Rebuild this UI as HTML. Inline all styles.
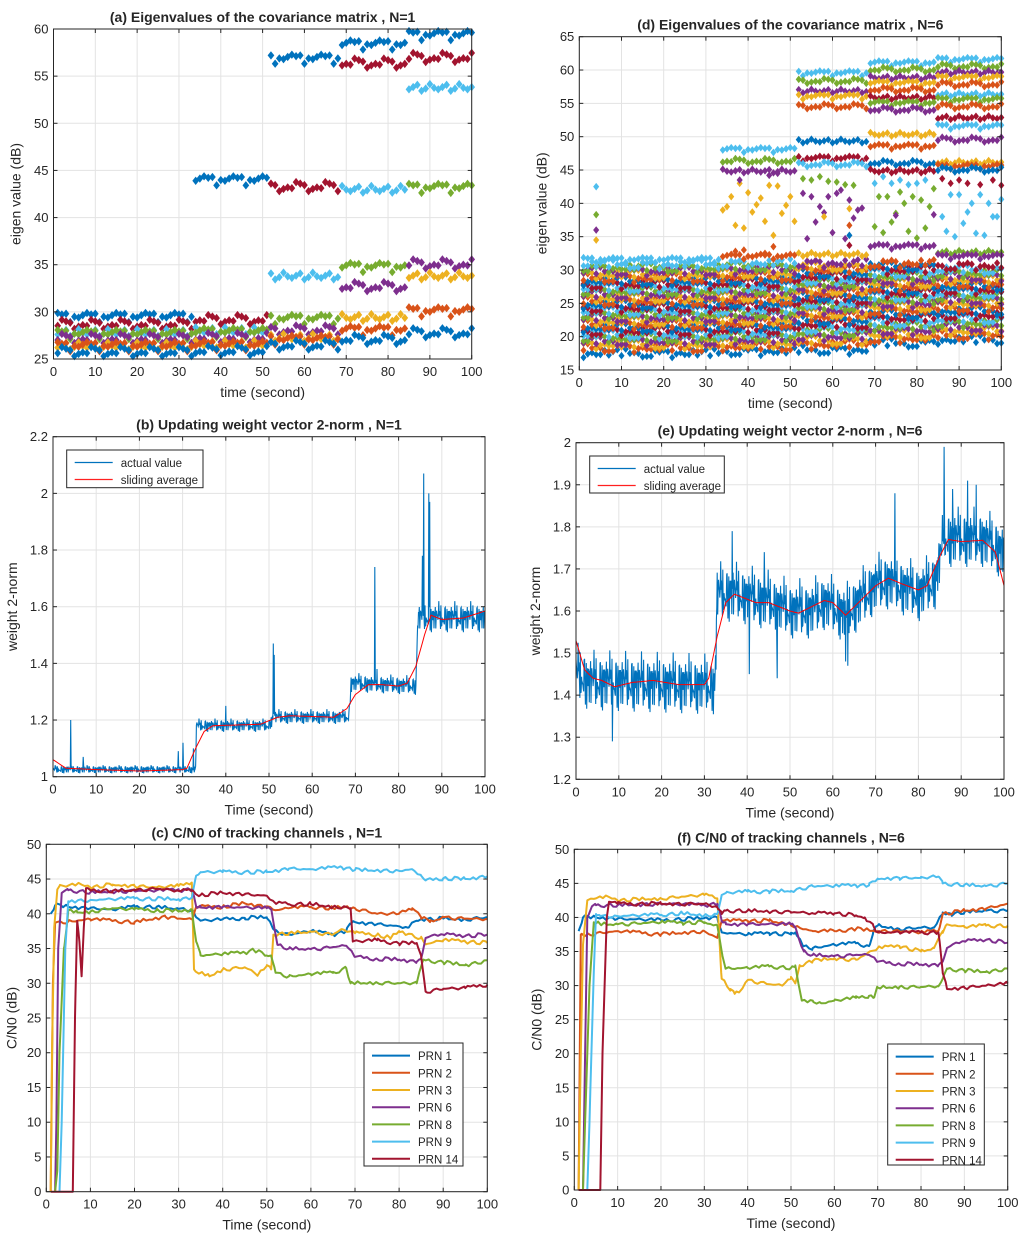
<!DOCTYPE html>
<html><head><meta charset="utf-8"><style>
body{margin:0;background:#fff}
svg text{font-family:"Liberation Sans",sans-serif;fill:#262626}
</style></head><body>
<svg id="fig" width="1024" height="1237" viewBox="0 0 1024 1237" xmlns="http://www.w3.org/2000/svg"></svg>
<script>
// ---------- data ----------
const COLORS=['#0072BD','#D95319','#EDB120','#7E2F8E','#77AC30','#4DBEEE','#A2142F'];
const prnNames=['PRN 1','PRN 2','PRN 3','PRN 6','PRN 8','PRN 9','PRN 14'];
const jitter=[0.3,-0.5,0.1,0.6,-0.2,-0.7,0.4,0,-0.4,0.5,-0.1,0.2,-0.6,0.7,-0.3,0.1,0.5,-0.5,0,0.3,-0.2];
const noise=[0.2,-0.6,0.9,-0.3,0.1,0.7,-0.9,0.4,-0.1,0.5,-0.7,0.3,0.8,-0.4,0,-0.8,0.6,-0.2,0.35,-0.55,0.95,-0.15,0.45,-0.85,0.15,0.65,-0.35,-0.65,0.25,0.75,-0.45,0.05,-0.95,0.55,-0.25,0.85,-0.05];
const aSegs=[[1,33],[34,51],[52,68],[69,84],[85,100]];
const aLevels=[
 [[29.4,0],[28.6,6],[28.0,5],[27.6,4],[27.1,3],[26.6,2],[26.3,1],[25.7,0]],
 [[43.9,0],[29.1,6],[28.2,5],[27.8,4],[27.2,3],[26.8,2],[26.4,1],[25.8,0]],
 [[56.8,0],[43.2,6],[34.0,5],[29.2,4],[28.0,3],[27.5,2],[27.0,1],[26.4,0]],
 [[58.3,0],[56.3,6],[43.2,5],[34.7,4],[32.6,3],[29.6,2],[28.0,1],[27.0,0]],
 [[59.3,0],[56.9,6],[54.0,5],[43.1,4],[35.0,3],[34.0,2],[30.0,1],[27.7,0]]];
const dSegs=[[1,33],[34,51],[52,68],[69,84],[85,100]];
const dUpper=[
 [[31.5,5]],
 [[48,5],[46.3,4],[45,3],[32,1]],
 [[59.5,5],[58.3,4],[57,3],[56,2],[54.5,1],[49.5,0],[46.7,6],[45.8,5],[32.5,2]],
 [[61,5],[60,4],[59,3],[58,2],[57,1],[56,6],[55,4],[54,3],[50.5,2],[48.5,1],[46,0],[45,6],[33.5,3]],
 [[61.5,5],[60.5,4],[59.8,3],[58.8,2],[57.8,1],[56.5,5],[55.5,4],[54.5,1],[53,6],[51.5,5],[49.5,3],[46.3,2],[45.5,1],[45,0],[32.8,4],[32,3]]];
const dBand=[
 [17.5,18.3,18.8,19.3,19.8,20.3,20.8,21.3,21.8,22.3,22.8,23.3,23.8,24.3,24.8,25.3,25.8,26.3,26.8,27.3,27.8,28.3,28.8,29.3,29.8,30.3,30.8],
 [17.8,18.5,19.0,19.5,20.0,20.5,21.0,21.5,22.0,22.5,23.0,23.5,24.0,24.5,25.0,25.5,26.0,26.5,27.0,27.5,28.0,28.5,29.0,29.5,30.0,30.5,31.0],
 [18.0,18.8,19.4,20.0,20.6,21.2,21.8,22.4,23.0,23.5,24.0,24.5,25.0,25.5,26.0,26.5,27.0,27.5,28.0,28.5,29.0,29.5,30.0,30.5,31.0],
 [19.0,19.7,20.3,20.9,21.5,22.1,22.7,23.3,23.9,24.5,25.0,25.5,26.0,26.5,27.0,27.5,28.0,28.5,29.0,29.5,30.0,30.5,31.0],
 [19.5,20.2,20.8,21.4,22.0,22.6,23.2,23.8,24.4,25.0,25.5,26.0,26.5,27.0,27.5,28.0,28.5,29.0,29.5,30.0,30.6]];
const dScatter=[[4,42.5,5],[4,38.3,4],[4,36,3],[4,34.5,2],
 [34,39,2],[35,39.5,2],[36,41,2],[37,36.7,2],[38,43,2],[39,36.3,2],[40,41.6,2],[41,38.7,2],[42,39.8,2],[43,40.8,2],[44,37.3,2],[45,42.7,2],[46,35.2,2],[47,42.6,2],[48,38.5,2],[49,39.7,2],[50,41,2],[51,37.3,2],
 [37,32.8,1],[39,33,1],[46,33.5,1],[44,32.5,1],[38,43.5,3],[45,44.2,3],[47,44.5,3],
 [53,43.7,4],[55,43.5,4],[57,44,4],[59,43.3,4],[61,43.2,4],[63,42.8,4],[65,42.7,4],
 [53,41.5,3],[54,34.7,3],[55,41,3],[56,37.2,3],[57,39.5,3],[58,38.6,3],[59,41,3],[60,35.6,3],[61,41.5,3],[62,42,3],[63,34.7,3],[64,40.5,3],[65,37.8,3],[66,39,3],[67,39.3,3],
 [58,38,2],[64,39.2,2],[64,36.7,1],[64,33.7,6],[64,35.2,0],
 [70,36.5,4],[71,41,4],[72,35.6,4],[73,41,4],[74,37.2,4],[75,38.5,4],[76,41.7,4],[77,40,4],[78,35.8,4],[79,41,4],[80,34.8,4],[81,40.5,4],[82,36.3,4],[83,39.5,4],[84,42.2,4],
 [75,38.2,3],[84,38.3,3],[70,43,5],[72,44,5],[74,43,5],[76,43.5,5],[78,42.8,5],[80,43,5],[82,43.5,5],
 [86,38,5],[87,35.8,5],[88,41.3,5],[89,35,5],[90,41.3,5],[91,37,5],[92,38.7,5],[93,40,5],[94,35.5,5],[95,41.3,5],[96,35.2,5],[97,40,5],[98,38,5],[99,38,5],[100,40.6,5],
 [86,43.7,6],[88,43,6],[90,43.5,6],[92,43,6],[95,42.8,6],[98,43.5,6],[100,42.7,6]];
const bAvgT=[0,3,10,20,30,31,33,35,37,48,52,55,65,68,70,73,76,80,82,84,86,87.5,90,95,100];
const bAvgV=[1.06,1.03,1.025,1.02,1.025,1.03,1.1,1.16,1.18,1.185,1.21,1.215,1.21,1.24,1.29,1.325,1.325,1.32,1.33,1.39,1.5,1.57,1.555,1.56,1.585];
const bActT=[0,33,33.2,50,51,68.5,69,84,84.5,100];
const bActV=[1.025,1.025,1.18,1.18,1.21,1.21,1.33,1.32,1.56,1.56];
const bAmp=[0.011,0.011,0.018,0.018,0.02,0.02,0.026,0.026,0.042,0.042];
const bSpikeT=[4.1,7,29,30.1,32.5,40,51,51.2,74.5,75,85.5,85.8,87,87.2];
const bSpikeV=[1.2,1.07,1.09,1.12,1.1,1.25,1.47,1.43,1.74,1.38,1.78,2.07,2.0,1.97];
const eAvgT=[0,2,4,6,9,13,18,24,30,31,33,35,37,42,45,50,52,55,58,60,63,66,70,73,76,80,82,85,87,90,95,98,100];
const eAvgV=[1.53,1.46,1.44,1.435,1.42,1.43,1.435,1.425,1.425,1.44,1.54,1.62,1.64,1.62,1.62,1.6,1.595,1.61,1.625,1.62,1.59,1.62,1.66,1.678,1.665,1.65,1.66,1.73,1.77,1.765,1.768,1.74,1.66];
const eActT=[0,3,32.5,33,37,45,50,55,58,63,70,73,80,84,86,95,100];
const eActV=[1.45,1.43,1.42,1.64,1.64,1.62,1.6,1.6,1.62,1.59,1.66,1.67,1.64,1.67,1.77,1.77,1.74];
const eSpikeT=[36.5,40.5,44,63.5,74.5,86,88,91.5,93.5,8.5,47,63];
const eSpikeV=[1.79,1.45,1.74,1.47,1.88,1.99,1.89,1.91,1.9,1.29,1.44,1.48];
const cT=[
 [1,2,5,10,15,20,25,30,33,34,35,40,45,50,52,55,60,65,68,69,70,75,80,82,84,86,90,95,100],
 [1,1.5,2,5,10,20,27,30,33,34,40,45,50,52,55,60,65,68,70,75,80,83,85,87,90,95,100],
 [1,1.3,1.8,2.5,3,8,10,15,20,25,30,33,33.5,35,37,40,45,48,50,51,51.5,55,60,65,67,70,75,78,80,85,86,90,95,100],
 [2,2.3,2.7,3.5,5,10,20,30,33,34,35,40,50,51,52.5,55,60,65,68,70,75,80,84,85,86,88,90,95,100],
 [2,2.5,3,4,5,7,10,15,20,25,30,33,34,35,40,45,47,50,51,52,55,60,65,68,69,75,80,84,85.5,90,95,100],
 [3,3.5,4.3,5,10,20,30,33,34,35,40,50,55,60,67,70,80,83,85,86,90,95,100],
 [1,6,6.5,7,7.5,8,8.5,9,10,15,20,25,30,33,35,40,45,50,52,55,60,65,68,69,69.5,75,80,84,85,86,90,95,100]];
const cV=[
 [40,41.2,41,40.8,40.6,41,41,40.7,40.6,39.5,39,39.2,39.4,39.5,37.5,37,37.5,37,37.5,38.5,38.8,38.5,38.2,38,39,39.2,39.3,39.2,39.5],
 [0,30,38.7,38.9,39.2,38.8,39.6,39.3,39.2,41,41,41.5,41,40.5,40.8,41,40.8,41,40.8,40,40,40.8,39.5,38.8,39.5,39.3,39.2],
 [0,20,38,43.5,44,44.2,43.8,44.2,44,43.8,44,44.5,32,31.5,31,32,32.3,31.2,32.5,32,37,37.2,37.4,37,37.8,37.2,37,36.5,37.5,36.5,35.6,36.2,36,35.8],
 [0,10,35,43,43.4,43.1,43.3,43.4,43.5,41,40.9,41,40.8,40.6,35.5,35,34.9,35.2,35.4,33.8,33.5,33.4,33.1,33.5,36.5,37,37,36.8,37],
 [0,3,20,35,40.5,40.2,40.3,40.8,40.6,40.5,40.4,40.6,36,34,34.2,34.4,34.8,34,34,31.5,31,31.3,31.5,32.2,30,30.1,30,30,33.4,33,32.6,33.3],
 [0,10,35,41.8,42,42.2,42.1,42.3,45.5,46,46,46,46.5,46.4,46.7,46.3,46.2,46.4,45.5,44.8,45.1,45,45.4],
 [0,0,25,39,36,31,38,43.7,43.4,43.3,43.4,43.6,43.3,43.3,42.7,43,42.8,42.6,41.5,41.4,41.4,41,41,40.8,36,36.2,35.7,35.8,34,28.8,29.2,29.3,29.8]];
const fT=[
 [1,2,5,10,20,30,33,34,40,45,50,51,53,55,60,65,68,69,70,75,80,83,85,87,90,95,100],
 [1,1.5,3,10,20,30,33,34,40,45,50,52,55,60,65,70,75,80,84,85,90,95,100],
 [1,1.5,2,3,5,8,10,20,30,33,34,36,37,38,40,45,48,50,51,52,55,60,65,70,75,80,83,85,86,90,95,100],
 [2,2.5,3,4,5,10,20,30,33,34,35,40,50,51,53,55,60,65,68,70,75,80,84,85,86,88,90,95,100],
 [2,2.5,3.5,4.5,6,10,20,25,30,33,34,35,40,45,50,51,52.5,55,57,60,65,68,69,70,75,80,84,85,86,90,95,100],
 [3,3.5,4.5,5,6,10,20,25,30,33,34,35,40,45,50,55,60,65,68,70,75,80,84,85,90,95,100],
 [1,6,6.5,7.5,8,10,20,30,33,34,35,40,50,55,60,65,67,69,70,75,80,84,85,86,90,95,100]];
const fV=[
 [38,40,40,39.8,39.6,39.9,40,37.8,37.5,37.7,37.5,37.8,35.8,35.5,36,36.2,35.8,38,38.8,38.3,38.5,38.5,40.5,40.5,40.8,41,41],
 [0,37.5,37.5,38,37.5,38,37,39.5,39.5,39.5,39,38.5,38,38,38.3,38,38,37.8,38,40.5,41,41.3,42],
 [0,20,36,42.5,42.8,43,42.5,42.8,43.3,42.8,31,29.5,28.8,29,30.8,30.2,30,31,30.3,33,33.6,34,33.8,35.5,35.8,35,35.5,38,39,38.6,38.8,38.8],
 [0,20,40,41.5,41.8,41.8,42,41.8,42,39.5,39,39,39,38.5,35,34.5,34.3,34.5,34.5,33.5,33.2,33.1,33,33.5,35.5,36.3,36.5,36.7,36.3],
 [0,10,30,39.3,39,39,39.3,39.2,39.3,38.8,35,32.5,32.6,32.8,32.6,32.7,27.8,27.8,27.4,27.8,28.2,28.5,28.2,29.7,29.8,29.8,29.9,31,32.5,32.2,32,32.5],
 [0,10,32,40.5,40.2,40.2,40.4,40.6,40.3,40.5,43.3,43.6,43.8,43.8,43.9,44.6,44.6,44.7,44.7,45.7,45.8,45.8,46,45,44.8,44.6,45],
 [0,0,20,40,42.3,42,42,42,41.5,40.5,41,41,40.8,40.6,40.6,40.3,40,38.8,37.8,37.8,37.8,37.8,32,29.5,29.7,30,30.3]];
const tenTicks=[0,10,20,30,40,50,60,70,80,90,100];

// ---------- helpers ----------
const NS='http://www.w3.org/2000/svg';
const fig=document.getElementById('fig');
function mk(tag,attrs,parent){const e=document.createElementNS(NS,tag);for(const k in attrs)e.setAttribute(k,attrs[k]);(parent||fig).appendChild(e);return e;}
function interp(T,V,t){if(t<=T[0])return V[0];for(let i=1;i<T.length;i++){if(t<=T[i]){const f=(t-T[i-1])/(T[i]-T[i-1]);return V[i-1]+f*(V[i]-V[i-1]);}}return V[V.length-1];}
function axes(o){
  const g=mk('g',{});
  
  
  const sx=v=>o.x0+(v-o.xmin)/(o.xmax-o.xmin)*(o.x1-o.x0);
  const sy=v=>o.y1-(v-o.ymin)/(o.ymax-o.ymin)*(o.y1-o.y0);
  mk('rect',{x:o.x0,y:o.y0,width:o.x1-o.x0,height:o.y1-o.y0,fill:'#fff'},g);
  o.xticks.forEach(t=>{const x=sx(t);
    const l=mk('line',{x1:x,x2:x,y1:o.y0,y2:o.y1,stroke:'#e3e3e3','stroke-width':1},g);
    
    const tx=mk('text',{x:x,y:o.y1+17,'text-anchor':'middle','font-size':13},g);tx.textContent=t;
    });
  o.yticks.forEach(t=>{const y=sy(t);
    const l=mk('line',{x1:o.x0,x2:o.x1,y1:y,y2:y,stroke:'#e3e3e3','stroke-width':1},g);
    
    const tx=mk('text',{x:o.x0-5,y:y+4.5,'text-anchor':'end','font-size':13},g);tx.textContent=t;
    });
  const plot=mk('g',{},g);
  
  const clip=mk('clipPath',{id:'clip-'+o.name},g);mk('rect',{x:o.x0-4,y:o.y0-4,width:o.x1-o.x0+8,height:o.y1-o.y0+8},clip);
  plot.setAttribute('clip-path','url(#clip-'+o.name+')');
  const after=()=>{
    o.xticks.forEach(t=>{const x=sx(t);mk('line',{x1:x,x2:x,y1:o.y1,y2:o.y1-4,stroke:'#262626'},g);mk('line',{x1:x,x2:x,y1:o.y0,y2:o.y0+4,stroke:'#262626'},g);});
    o.yticks.forEach(t=>{const y=sy(t);mk('line',{x1:o.x0,x2:o.x0+4,y1:y,y2:y,stroke:'#262626'},g);mk('line',{x1:o.x1,x2:o.x1-4,y1:y,y2:y,stroke:'#262626'},g);});
    const b=mk('rect',{x:o.x0,y:o.y0,width:o.x1-o.x0,height:o.y1-o.y0,fill:'none',stroke:'#262626','stroke-width':1},g);
    
    const ti=mk('text',{x:(o.x0+o.x1)/2,y:o.y0-7,'text-anchor':'middle','font-size':14,'font-weight':'bold',fill:'#000'},g);ti.textContent=o.title;
    
    const xl=mk('text',{x:(o.x0+o.x1)/2,y:o.y1+38,'text-anchor':'middle','font-size':14},g);xl.textContent=o.xlabel;
    
    const yc=(o.y0+o.y1)/2,xc=o.x0-o.ylx;
    const yl=mk('text',{x:xc,y:yc,'text-anchor':'middle','font-size':14,transform:`rotate(-90 ${xc} ${yc})`},g);yl.textContent=o.ylabel;
    
  };
  return {g,plot,sx,sy,after};
}
function diamond(p,x,y,s,c){const d=mk('polygon',{points:`${x},${y-s} ${x+s*0.8},${y} ${x},${y+s} ${x-s*0.8},${y}`,fill:c},p);
  }
function legendBox(ax,x,y,w,h,items,lw,fs,rowH,name){
  const g=mk('g',{},ax.g);
  mk('rect',{x,y,width:w,height:h,fill:'#fff',stroke:'#262626','stroke-width':1},g);
  items.forEach((it,i)=>{const yy=y+rowH*0.5+4+i*rowH;
    const e=mk('g',{},g);
    mk('line',{x1:x+8,x2:x+8+lw,y1:yy,y2:yy,stroke:it[1],'stroke-width':it[2]},e);
    const t=mk('text',{x:x+16+lw,y:yy+4.5,'font-size':fs},e);t.textContent=it[0];});
}

// ---------- (a) ----------
(function(){
 const ax=axes({name:'chart-a',x0:53.5,x1:471.7,y0:29,y1:359,xmin:0,xmax:100,ymin:25,ymax:60,xticks:tenTicks,yticks:[25,30,35,40,45,50,55,60],
  title:'(a) Eigenvalues of the covariance matrix , N=1',xlabel:'time (second)',ylabel:'eigen value (dB)',ylx:33});
 aSegs.forEach((s,si)=>{aLevels[si].forEach((lv,k)=>{for(let t=s[0];t<=s[1];t++){
   const v=lv[0]+jitter[(t*3+k*7)%jitter.length]*0.8;diamond(ax.plot,ax.sx(t),ax.sy(v),4.2,COLORS[lv[1]]);}});});
 ax.after();
})();
// ---------- (d) ----------
(function(){
 const ax=axes({name:'chart-d',x0:579.3,x1:1001.3,y0:36.7,y1:370,xmin:0,xmax:100,ymin:15,ymax:65,xticks:tenTicks,yticks:[15,20,25,30,35,40,45,50,55,60,65],
  title:'(d) Eigenvalues of the covariance matrix , N=6',xlabel:'time (second)',ylabel:'eigen value (dB)',ylx:33});
 dSegs.forEach((s,si)=>{
   dBand[si].forEach((lv,k)=>{for(let t=s[0];t<=s[1];t++){const v=lv+jitter[(t*5+k*3)%jitter.length]*0.9;diamond(ax.plot,ax.sx(t),ax.sy(v),3.8,COLORS[k%7]);}});
   dUpper[si].forEach((lv,k)=>{for(let t=s[0];t<=s[1];t++){const v=lv[0]+jitter[(t*3+k*7)%jitter.length]*0.6;diamond(ax.plot,ax.sx(t),ax.sy(v),3.8,COLORS[lv[1]]);}});
 });
 dScatter.forEach(p=>diamond(ax.plot,ax.sx(p[0]),ax.sy(p[1]),3.8,COLORS[p[2]]));
 ax.after();
})();
// ---------- weight norm charts ----------
function normChart(cfg){
 const ax=axes(cfg);
 let pts=[];
 for(let i=0;i<=1000;i++){const t=i/10;let v=interp(cfg.actT,cfg.actV,t)+noise[(i*7)%noise.length]*interp(cfg.actT,cfg.amp,t)+noise[(i*3+5)%noise.length]*interp(cfg.actT,cfg.amp,t)*0.6;
   cfg.spT.forEach((st,j)=>{if(Math.abs(st-t)<0.05)v=cfg.spV[j];});
   pts.push(ax.sx(t).toFixed(1)+','+ax.sy(v).toFixed(1));}
 const l=mk('polyline',{points:pts.join(' '),fill:'none',stroke:'#0072BD','stroke-width':1.1},ax.plot);
 
 let ap=[];for(let i=0;i<=200;i++){const t=i/2;ap.push(ax.sx(t).toFixed(1)+','+ax.sy(interp(cfg.avgT,cfg.avgV,t)).toFixed(1));}
 const a=mk('polyline',{points:ap.join(' '),fill:'none',stroke:'#FF0000','stroke-width':1},ax.plot);
 
 ax.after();
 legendBox(ax,cfg.lg[0],cfg.lg[1],cfg.lg[2],cfg.lg[3],[['actual value','#0072BD',1.2],['sliding average','#FF2020',1.2]],38,11.5,17,'legend');
}
normChart({name:'chart-b',x0:53,x1:485,y0:436.7,y1:776.7,xmin:0,xmax:100,ymin:1,ymax:2.2,xticks:tenTicks,yticks:[1,1.2,1.4,1.6,1.8,2,2.2],
 title:'(b) Updating weight vector 2-norm , N=1',xlabel:'Time (second)',ylabel:'weight 2-norm',ylx:36,
 actT:bActT,actV:bActV,amp:bAmp,spT:bSpikeT,spV:bSpikeV,avgT:bAvgT,avgV:bAvgV,lg:[66.7,450,136.3,37.7]});
const eAmp=eActT.map(()=>0.055);
normChart({name:'chart-e',x0:576,x1:1004,y0:442.7,y1:779.3,xmin:0,xmax:100,ymin:1.2,ymax:2,xticks:tenTicks,yticks:[1.2,1.3,1.4,1.5,1.6,1.7,1.8,1.9,2],
 title:'(e) Updating weight vector 2-norm , N=6',xlabel:'Time (second)',ylabel:'weight 2-norm',ylx:36,
 actT:eActT,actV:eActV,amp:eAmp,spT:eSpikeT,spV:eSpikeV,avgT:eAvgT,avgV:eAvgV,lg:[589.7,456,134.6,37]});
// ---------- C/N0 charts ----------
function cnChart(cfg,T,V){
 const ax=axes(cfg);
 T.forEach((ts,k)=>{
   let tt=ts.slice();for(let t=ts[0];t<=100;t+=0.7)tt.push(t);tt.sort((a,b)=>a-b);
   const p=tt.map((t,i)=>{let v=interp(ts,V[k],t);if(v>25&&ts.indexOf(t)<0)v+=noise[(i*5+k*3)%noise.length]*0.3;
     return ax.sx(t).toFixed(1)+','+ax.sy(v).toFixed(1);}).join(' ');
   const l=mk('polyline',{points:p,fill:'none',stroke:COLORS[k],'stroke-width':2,'stroke-linejoin':'round'},ax.plot);
   });
 ax.after();
 legendBox(ax,cfg.lg[0],cfg.lg[1],cfg.lg[2],cfg.lg[3],prnNames.map((n,i)=>[n,COLORS[i],2]),38,11.5,17.2,'legend');
}
cnChart({name:'chart-c',x0:46.3,x1:487.3,y0:844.3,y1:1191.7,xmin:0,xmax:100,ymin:0,ymax:50,xticks:tenTicks,yticks:[0,5,10,15,20,25,30,35,40,45,50],
 title:'(c) C/N0 of tracking channels , N=1',xlabel:'Time (second)',ylabel:'C/N0 (dB)',ylx:30,lg:[364,1043,99,123]},cT,cV);
cnChart({name:'chart-f',x0:574.3,x1:1007.7,y0:849.3,y1:1190,xmin:0,xmax:100,ymin:0,ymax:50,xticks:tenTicks,yticks:[0,5,10,15,20,25,30,35,40,45,50],
 title:'(f) C/N0 of tracking channels , N=6',xlabel:'Time (second)',ylabel:'C/N0 (dB)',ylx:33,lg:[887.7,1044,96.6,121]},fT,fV);
</script>
</body></html>
